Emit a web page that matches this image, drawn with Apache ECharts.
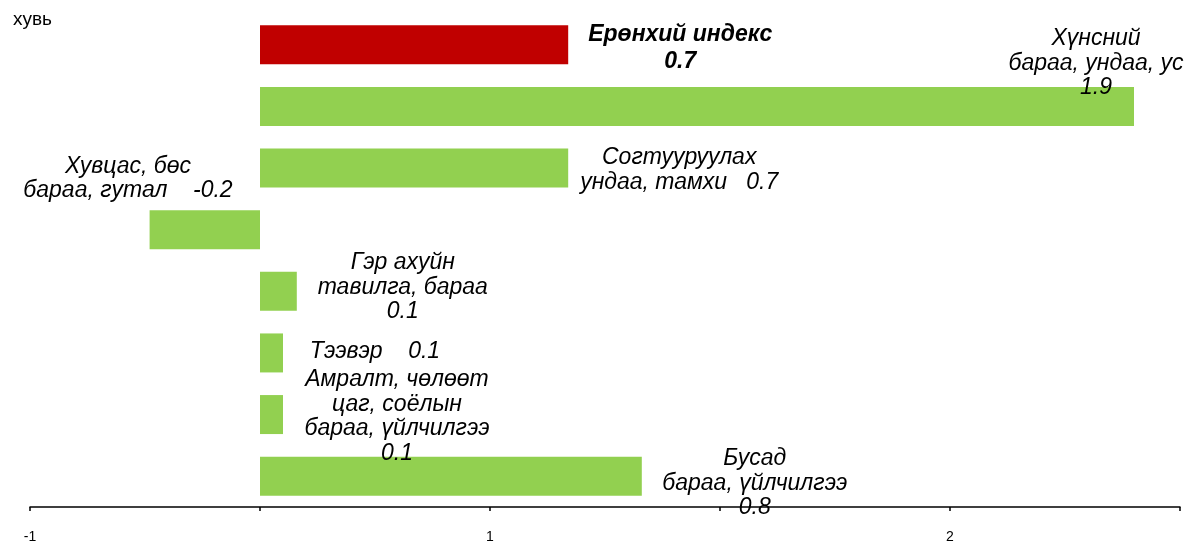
<!DOCTYPE html>
<html lang="mn">
<head>
    <meta charset="UTF-8">
    <title>Хувь</title>
    <style>
        html, body { margin: 0; padding: 0; background: #fff; }
        #chart { width: 1196px; height: 545px; }
    </style>
</head>
<body>
<div id="chart"></div>
<script src="https://cdn.jsdelivr.net/npm/echarts@6/dist/echarts.min.js"></script>
<script type="text/javascript">
    const categories = ['Ерөнхий индекс', 'Хүнсний бараа, ундаа, ус', 'Согтууруулах ундаа, тамхи',
        'Хувцас, бөс бараа, гутал', 'Гэр ахуйн тавилга, бараа', 'Тээвэр',
        'Амралт, чөлөөт цаг, соёлын бараа, үйлчилгээ', 'Бусад бараа, үйлчилгээ'];
    const values = [0.67, 1.9, 0.67, -0.24, 0.08, 0.05, 0.05, 0.83];

    // how the label text is broken and joined to its value
    const labelNames = ['Ерөнхий индекс', 'Хүнсний\nбараа, ундаа, ус', 'Согтууруулах\nундаа, тамхи',
        'Хувцас, бөс\nбараа, гутал', 'Гэр ахуйн\nтавилга, бараа', 'Тээвэр',
        'Амралт, чөлөөт\nцаг, соёлын\nбараа, үйлчилгээ', 'Бусад\nбараа, үйлчилгээ'];
    const valueSep = ['\n', '\n', '   ', '    ', '\n', '    ', '\n', '\n'];

    const tickValues = [-0.5, 0, 0.5, 1, 1.5, 2];
    const tickLabels = ['-1', '', '1', '', '2', ''];

    // label placement (px from the bar's right edge)
    const labelOffsets = [[112, 3], [-38, -43], [111, 2], [-132, -51], [106, -4], [92, -1], [114, 2], [113, 7]];

    const chart = echarts.init(document.getElementById('chart'));

    const font = "'Liberation Sans', Arial, sans-serif";

    const seriesData = values.map((v, i) => ({
        value: v,
        itemStyle: { color: i === 0 ? '#C00000' : '#92D050' },
        label: {
            offset: labelOffsets[i],
            fontWeight: i === 0 ? 'bold' : 'normal',
            fontSize: 23,
            lineHeight: i === 0 ? 27 : 24.5
        }
    }));

    chart.setOption({
        animation: false,
        title: {
            text: 'хувь',
            left: 8,
            top: 5,
            textStyle: { fontFamily: font, fontSize: 19, fontWeight: 'normal', color: '#000' }
        },
        grid: { left: 30, right: 16, top: 14, bottom: 38, containLabel: false },
        xAxis: {
            type: 'value',
            min: -0.5,
            max: 2,
            interval: 0.5,
            axisLine: { show: true, onZero: false, lineStyle: { color: '#000', width: 1.5 } },
            axisTick: { show: true, length: 4, lineStyle: { color: '#000', width: 1.5 } },
            splitLine: { show: false },
            axisLabel: {
                margin: 23,
                fontFamily: font,
                fontSize: 14,
                color: '#000',
                formatter: v => {
                    const i = tickValues.findIndex(t => Math.abs(t - v) < 1e-9);
                    return i >= 0 ? tickLabels[i] : '';
                }
            }
        },
        yAxis: {
            type: 'category',
            inverse: true,
            data: categories,
            axisLine: { show: false },
            axisTick: { show: false },
            axisLabel: { show: false }
        },
        series: [{
            type: 'bar',
            barWidth: 39,
            data: seriesData,
            label: {
                show: true,
                position: 'right',
                distance: 0,
                align: 'center',
                verticalAlign: 'middle',
                fontFamily: font,
                fontStyle: 'italic',
                color: '#000',
                formatter: p => labelNames[p.dataIndex] + valueSep[p.dataIndex] + p.value.toFixed(1)
            }
        }]
    });
</script>
</body>
</html>
